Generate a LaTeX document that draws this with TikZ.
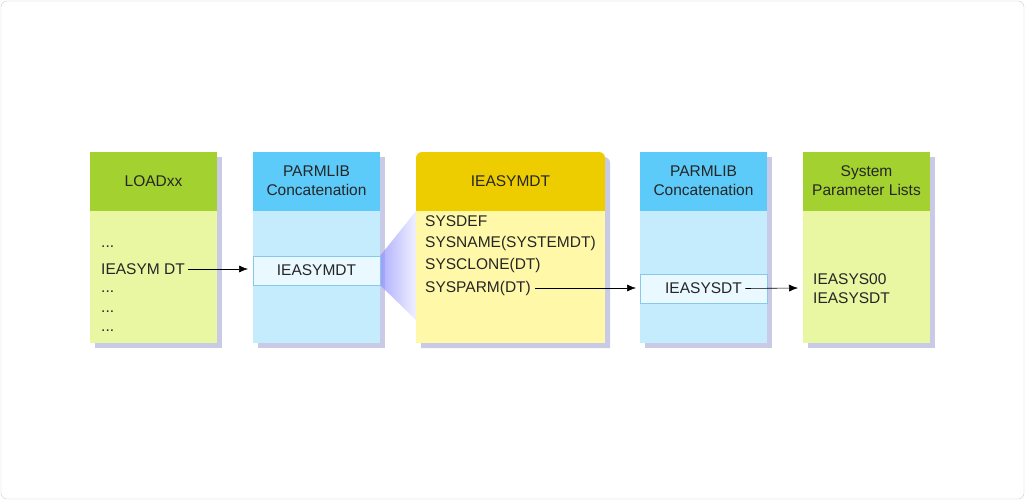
\documentclass[tikz,border=0pt]{standalone}
\usepackage{fontspec}
\setmainfont{Liberation Sans}
\usetikzlibrary{arrows.meta}
\begin{document}
\begin{tikzpicture}[x=1pt,y=-1pt,
  shd/.style={fill=shadow},
  hdr/.style={font=\fontsize{15.5}{19}\selectfont,align=center,text=black!85},
  txt/.style={font=\fontsize{15.5}{19}\selectfont,anchor=west,inner sep=0pt,text=black!85},
  arr/.style={-{Latex[length=9pt,width=7pt]},semithick}]
\definecolor{shadow}{HTML}{C9CBE6}
\definecolor{gH}{HTML}{A3D12F}\definecolor{gB}{HTML}{E9F6A2}
\definecolor{bH}{HTML}{5DCBFA}\definecolor{bB}{HTML}{C5ECFD}
\definecolor{yH}{HTML}{EDCD00}\definecolor{yB}{HTML}{FEF8A8}
\definecolor{iB}{HTML}{EAF8FF}\definecolor{iD}{HTML}{86C9EE}
\useasboundingbox (0,0) rectangle (1025,500);
\draw[black!20,fill=white,rounded corners=6] (1,1) rectangle (1024,499);
% shadows
\foreach \a/\b in {90/217,253/380,640/767,803/930} \fill[shd] (\a+5,157) rectangle (\b+5,348);
\fill[shd] (421,348) -- (421,163) [rounded corners=6] -- (421,157) -- (610,157) [sharp corners] -- (610,348) -- cycle;
% LOADxx
\fill[gH] (90,152) rectangle (217,211); \fill[gB] (90,211) rectangle (217,343);
\node[hdr] (l) at (153.5,181) {LOADxx};
\node[txt] (l1) at (101,247) {...};
\node[txt] (l2) at (101,269) {IEASYM DT};
\node[txt] (l3) at (101,292) {...};
\node[txt] (l4) at (101,312) {...};
\node[txt] (l5) at (101,331) {...};
% PARMLIB 1
\fill[bH] (253,152) rectangle (380,211); \fill[bB] (253,211) rectangle (380,343);
\node[hdr] (p1) at (316.5,181) {PARMLIB\\Concatenation};
% fan
\shade[left color=blue!45!white,right color=blue!8!white,opacity=0.7] (380,256) -- (416,211) -- (416,320) -- (380,285) -- cycle;
\draw[iD,fill=iB] (253,256) rectangle (380,285);
\node[font=\fontsize{15.5}{19}\selectfont,text=black!85] (m1) at (316.5,270.5) {IEASYMDT};
% IEASYMDT
\fill[yH] (416,211) -- (416,158) [rounded corners=6] -- (416,152) -- (605,152) [sharp corners] -- (605,211) -- cycle;
\fill[yB] (416,211) rectangle (605,343);
\node[hdr] (y) at (510.5,181) {IEASYMDT};
\node[txt] (y1) at (425,221) {SYSDEF};
\node[txt] (y2) at (425,243) {SYSNAME(SYSTEMDT)};
\node[txt] (y3) at (425,265) {SYSCLONE(DT)};
\node[txt] (y4) at (425,288) {SYSPARM(DT)};
% PARMLIB 2
\fill[bH] (640,152) rectangle (767,211); \fill[bB] (640,211) rectangle (767,343);
\node[hdr] (p2) at (703.5,181) {PARMLIB\\Concatenation};
\draw[iD,fill=iB] (640,274) rectangle (767,303);
\node[font=\fontsize{15.5}{19}\selectfont,text=black!85] (m2) at (703.5,288.5) {IEASYSDT};
% System
\fill[gH] (803,152) rectangle (930,211); \fill[gB] (803,211) rectangle (930,343);
\node[hdr] (s) at (866.5,181) {System\\Parameter Lists};
\node[txt] (s1) at (813,279) {IEASYS00};
\node[txt] (s2) at (813,298) {IEASYSDT};
% arrows
\draw[arr] ([xshift=3pt]l2.east) -- (248,269) coordinate (a1);
\draw[arr] ([xshift=4pt]y4.east) -- (636,288) coordinate (a2);
\draw[arr] ([xshift=0pt]m2.east) -- (798,288) coordinate (a3);
\end{tikzpicture}
\end{document}
